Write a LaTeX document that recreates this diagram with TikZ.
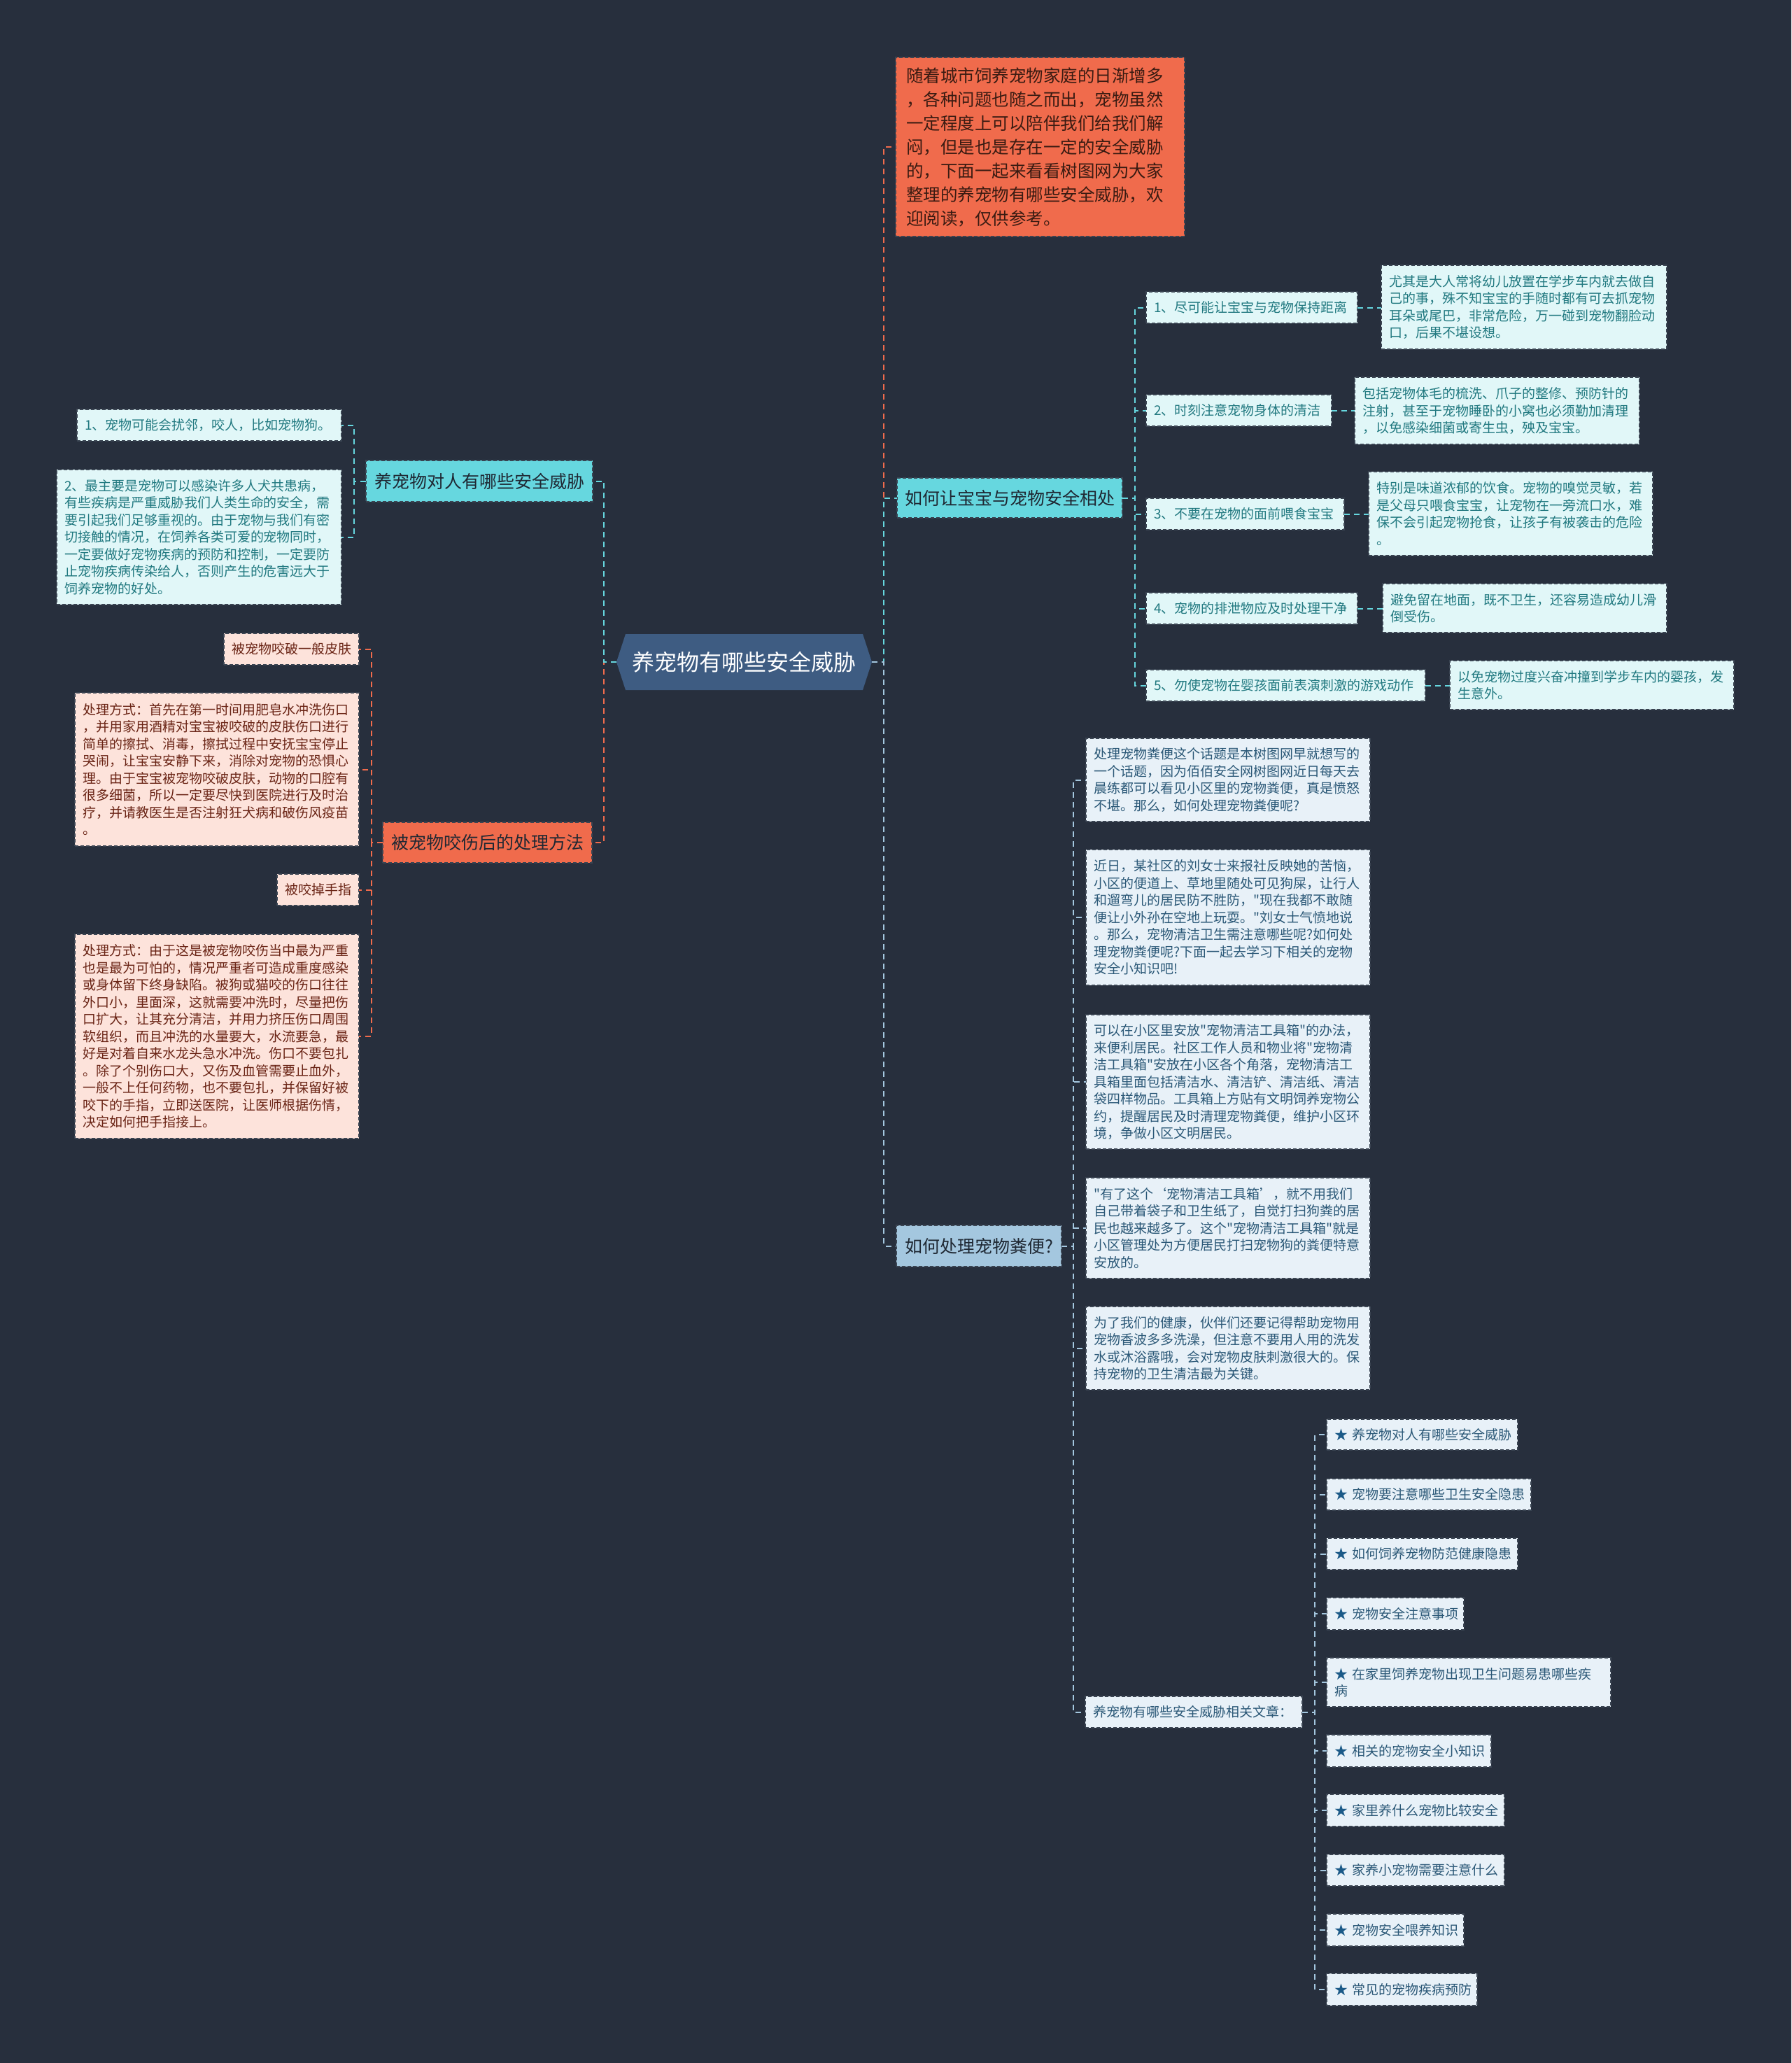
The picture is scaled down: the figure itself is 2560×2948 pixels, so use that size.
\documentclass[tikz,border=0pt]{standalone}
\usepackage{fontspec}
\setmainfont{Noto Sans CJK SC}[Ligatures=TeXOff]
\definecolor{bg}{HTML}{272F3D}
\definecolor{bdr}{HTML}{3A4452}
\definecolor{cyanN}{HTML}{66D7DF}
\definecolor{oraN}{HTML}{F06B4C}
\definecolor{bluN}{HTML}{A4C7DF}
\definecolor{ctrN}{HTML}{3E5C82}
\definecolor{cyanL}{HTML}{E1F7F8}
\definecolor{cyanT}{HTML}{217980}
\definecolor{bluL}{HTML}{E8F1F8}
\definecolor{bluT}{HTML}{2B5877}
\definecolor{oraL}{HTML}{FDE3DB}
\definecolor{oraT}{HTML}{6A2415}
\definecolor{darkT}{HTML}{1F2833}
\definecolor{introT}{HTML}{3A1B12}
\definecolor{starC}{HTML}{1B5A88}
\newcommand\mkbox[7]{\node[#1,text width=#5pt,minimum height=#6pt] (#2) at (#3,#4) {#7};}
\newcommand\st{\textcolor{starC}{★}~}
\begin{document}
\begin{tikzpicture}[x=1pt,y=-1pt,
  boxbase/.style={draw=bdr, dash pattern=on 5pt off 3pt, line width=1.3pt, anchor=north west, align=left, inner xsep=11pt, inner ysep=0pt, outer sep=0pt},
  cyanbox/.style={boxbase, fill=cyanL, text=cyanT, font=\fontsize{19}{24.5}\selectfont},
  blubox/.style={boxbase, fill=bluL, text=bluT, font=\fontsize{19}{24.5}\selectfont},
  orabox/.style={boxbase, fill=oraL, text=oraT, font=\fontsize{19}{24.5}\selectfont},
  topic/.style={boxbase, align=center, text=darkT, font=\fontsize{25}{30}\selectfont},
  cyantopic/.style={topic, fill=cyanN},
  oratopic/.style={topic, fill=oraN},
  blutopic/.style={topic, fill=bluN},
  introbox/.style={boxbase, fill=oraN, text=introT, inner xsep=15pt, font=\fontsize{24.5}{34}\selectfont},
  conn/.style={line width=2pt, dash pattern=on 8pt off 6pt},
  cC/.style={conn, draw=cyanN},
  oC/.style={conn, draw=oraN},
  bC/.style={conn, draw=bluN}
]
\fill[bg] (0,0) rectangle (2560,2948);
\useasboundingbox (0,0) rectangle (2560,2948);

% central topic
\fill[ctrN] (881,946) -- (894,906) -- (1233,906) -- (1246,946) -- (1233,986) -- (894,986) -- cycle;
\node[font=\fontsize{32}{38}\selectfont, text=white, minimum width=365pt, minimum height=80pt, inner sep=0pt, outer sep=0pt] (ctr) at (1063.5,946) {养宠物有哪些安全威胁};

% main branches
\mkbox{introbox}{intro}{1280}{82}{383}{256}{随着城市饲养宠物家庭的日渐增多\\，各种问题也随之而出，宠物虽然\\一定程度上可以陪伴我们给我们解\\闷，但是也是存在一定的安全威胁\\的，下面一起来看看树图网为大家\\整理的养宠物有哪些安全威胁，欢\\迎阅读，仅供参考。}
\mkbox{cyantopic}{threat}{523}{658}{302}{59}{养宠物对人有哪些安全威胁}
\mkbox{oratopic}{bite}{547}{1175}{277}{58}{被宠物咬伤后的处理方法}
\mkbox{cyantopic}{howsafe}{1282}{683}{300}{57}{如何让宝宝与宠物安全相处}
\mkbox{blutopic}{poop}{1281}{1751}{214}{59}{如何处理宠物粪便?}

% threat children
\mkbox{cyanbox}{L1}{110}{585}{356}{45}{1、宠物可能会扰邻，咬人，比如宠物狗。}
\mkbox{cyanbox}{L2}{81}{671}{385}{193}{2、最主要是宠物可以感染许多人犬共患病，\\有些疾病是严重威胁我们人类生命的安全，需\\要引起我们足够重视的。由于宠物与我们有密\\切接触的情况，在饲养各类可爱的宠物同时，\\一定要做好宠物疾病的预防和控制，一定要防\\止宠物疾病传染给人，否则产生的危害远大于\\饲养宠物的好处。}

% bite children
\mkbox{orabox}{B1}{320}{905}{171}{45}{被宠物咬破一般皮肤}
\mkbox{orabox}{B2}{107}{990}{384}{219}{处理方式：首先在第一时间用肥皂水冲洗伤口\\，并用家用酒精对宝宝被咬破的皮肤伤口进行\\简单的擦拭、消毒，擦拭过程中安抚宝宝停止\\哭闹，让宝宝安静下来，消除对宠物的恐惧心\\理。由于宝宝被宠物咬破皮肤，动物的口腔有\\很多细菌，所以一定要尽快到医院进行及时治\\疗，并请教医生是否注射狂犬病和破伤风疫苗\\。}
\mkbox{orabox}{B3}{396}{1249}{95}{45}{被咬掉手指}
\mkbox{orabox}{B4}{107}{1335}{384}{292}{处理方式：由于这是被宠物咬伤当中最为严重\\也是最为可怕的，情况严重者可造成重度感染\\或身体留下终身缺陷。被狗或猫咬的伤口往往\\外口小，里面深，这就需要冲洗时，尽量把伤\\口扩大，让其充分清洁，并用力挤压伤口周围\\软组织，而且冲洗的水量要大，水流要急，最\\好是对着自来水龙头急水冲洗。伤口不要包扎\\。除了个别伤口大，又伤及血管需要止血外，\\一般不上任何药物，也不要包扎，并保留好被\\咬下的手指，立即送医院，让医师根据伤情，\\决定如何把手指接上。}

% howsafe children
\mkbox{cyanbox}{I1}{1638}{417}{280}{45}{1、尽可能让宝宝与宠物保持距离}
\mkbox{cyanbox}{I2}{1638}{564}{243}{45}{2、时刻注意宠物身体的清洁}
\mkbox{cyanbox}{I3}{1638}{712}{261}{45}{3、不要在宠物的面前喂食宝宝}
\mkbox{cyanbox}{I4}{1638}{847}{280}{45}{4、宠物的排泄物应及时处理干净}
\mkbox{cyanbox}{I5}{1638}{957}{377}{45}{5、勿使宠物在婴孩面前表演刺激的游戏动作}
\mkbox{cyanbox}{D1}{1974}{379}{386}{120}{尤其是大人常将幼儿放置在学步车内就去做自\\己的事，殊不知宝宝的手随时都有可去抓宠物\\耳朵或尾巴，非常危险，万一碰到宠物翻脸动\\口，后果不堪设想。}
\mkbox{cyanbox}{D2}{1936}{539}{385}{96}{包括宠物体毛的梳洗、爪子的整修、预防针的\\注射，甚至于宠物睡卧的小窝也必须勤加清理\\，以免感染细菌或寄生虫，殃及宝宝。}
\mkbox{cyanbox}{D3}{1956}{674}{384}{120}{特别是味道浓郁的饮食。宠物的嗅觉灵敏，若\\是父母只喂食宝宝，让宠物在一旁流口水，难\\保不会引起宠物抢食，让孩子有被袭击的危险\\。}
\mkbox{cyanbox}{D4}{1976}{834}{384}{70}{避免留在地面，既不卫生，还容易造成幼儿滑\\倒受伤。}
\mkbox{cyanbox}{D5}{2072}{944}{384}{70}{以免宠物过度兴奋冲撞到学步车内的婴孩，发\\生意外。}

% poop children
\mkbox{blubox}{PA}{1552}{1055}{384}{119}{处理宠物粪便这个话题是本树图网早就想写的\\一个话题，因为佰佰安全网树图网近日每天去\\晨练都可以看见小区里的宠物粪便，真是愤怒\\不堪。那么，如何处理宠物粪便呢?}
\mkbox{blubox}{PB}{1552}{1214}{384}{194}{近日，某社区的刘女士来报社反映她的苦恼，\\小区的便道上、草地里随处可见狗屎，让行人\\和遛弯儿的居民防不胜防，"现在我都不敢随\\便让小外孙在空地上玩耍。"刘女士气愤地说\\。那么，宠物清洁卫生需注意哪些呢?如何处\\理宠物粪便呢?下面一起去学习下相关的宠物\\安全小知识吧!}
\mkbox{blubox}{PC}{1552}{1450}{384}{192}{可以在小区里安放"宠物清洁工具箱"的办法，\\来便利居民。社区工作人员和物业将"宠物清\\洁工具箱"安放在小区各个角落，宠物清洁工\\具箱里面包括清洁水、清洁铲、清洁纸、清洁\\袋四样物品。工具箱上方贴有文明饲养宠物公\\约，提醒居民及时清理宠物粪便，维护小区环\\境，争做小区文明居民。}
\mkbox{blubox}{PD}{1552}{1683}{384}{144}{"有了这个‘宠物清洁工具箱’，就不用我们\\自己带着袋子和卫生纸了，自觉打扫狗粪的居\\民也越来越多了。这个"宠物清洁工具箱"就是\\小区管理处为方便居民打扫宠物狗的粪便特意\\安放的。}
\mkbox{blubox}{PE}{1552}{1867}{384}{119}{为了我们的健康，伙伴们还要记得帮助宠物用\\宠物香波多多洗澡，但注意不要用人用的洗发\\水或沐浴露哦，会对宠物皮肤刺激很大的。保\\持宠物的卫生清洁最为关键。}
\mkbox{blubox}{PF}{1551}{2424}{288}{45}{养宠物有哪些安全威胁相关文章：}

% related articles
\mkbox{blubox}{S1}{1896}{2028}{251}{44}{\st 养宠物对人有哪些安全威胁}
\mkbox{blubox}{S2}{1896}{2113}{270}{45}{\st 宠物要注意哪些卫生安全隐患}
\mkbox{blubox}{S3}{1896}{2198}{251}{45}{\st 如何饲养宠物防范健康隐患}
\mkbox{blubox}{S4}{1896}{2283}{174}{46}{\st 宠物安全注意事项}
\mkbox{blubox}{S5}{1896}{2369}{384}{70}{\st 在家里饲养宠物出现卫生问题易患哪些疾\\病}
\mkbox{blubox}{S6}{1896}{2479}{213}{46}{\st 相关的宠物安全小知识}
\mkbox{blubox}{S7}{1896}{2564}{232}{46}{\st 家里养什么宠物比较安全}
\mkbox{blubox}{S8}{1896}{2650}{232}{45}{\st 家养小宠物需要注意什么}
\mkbox{blubox}{S9}{1896}{2735}{174}{46}{\st 宠物安全喂养知识}
\mkbox{blubox}{S10}{1896}{2820}{193}{46}{\st 常见的宠物疾病预防}

% connectors: center
\draw[oC] (ctr.west) -- ++(-18,0) |- (bite.east);
\draw[cC] (ctr.west) -- ++(-18,0) |- (threat.east);
\draw[oC] (ctr.east) -- ++(17,0) |- (intro.west);
\draw[cC] (ctr.east) -- ++(17,0) |- (howsafe.west);
\draw[bC] (ctr.east) -- ++(17,0) |- (poop.west);

% threat
\foreach \n in {L1,L2} \draw[cC] (threat.west) -- ++(-17,0) |- (\n.east);
% bite
\foreach \n in {B1,B2,B3,B4} \draw[oC] (bite.west) -- ++(-16,0) |- (\n.east);
% howsafe
\foreach \n in {I1,I2,I3,I4,I5} \draw[cC] (howsafe.east) -- ++(18,0) |- (\n.west);
\foreach \a/\b in {I1/D1,I2/D2,I3/D3,I4/D4,I5/D5} \draw[cC] (\a.east) -- (\a.east -| \b.west);
% poop
\foreach \n in {PA,PB,PC,PD,PE,PF} \draw[bC] (poop.east) -- ++(17,0) |- (\n.west);
% related
\foreach \n in {S1,S2,S3,S4,S5,S6,S7,S8,S9,S10} \draw[bC] (PF.east) -- ++(18,0) |- (\n.west);
\end{tikzpicture}
\end{document}
